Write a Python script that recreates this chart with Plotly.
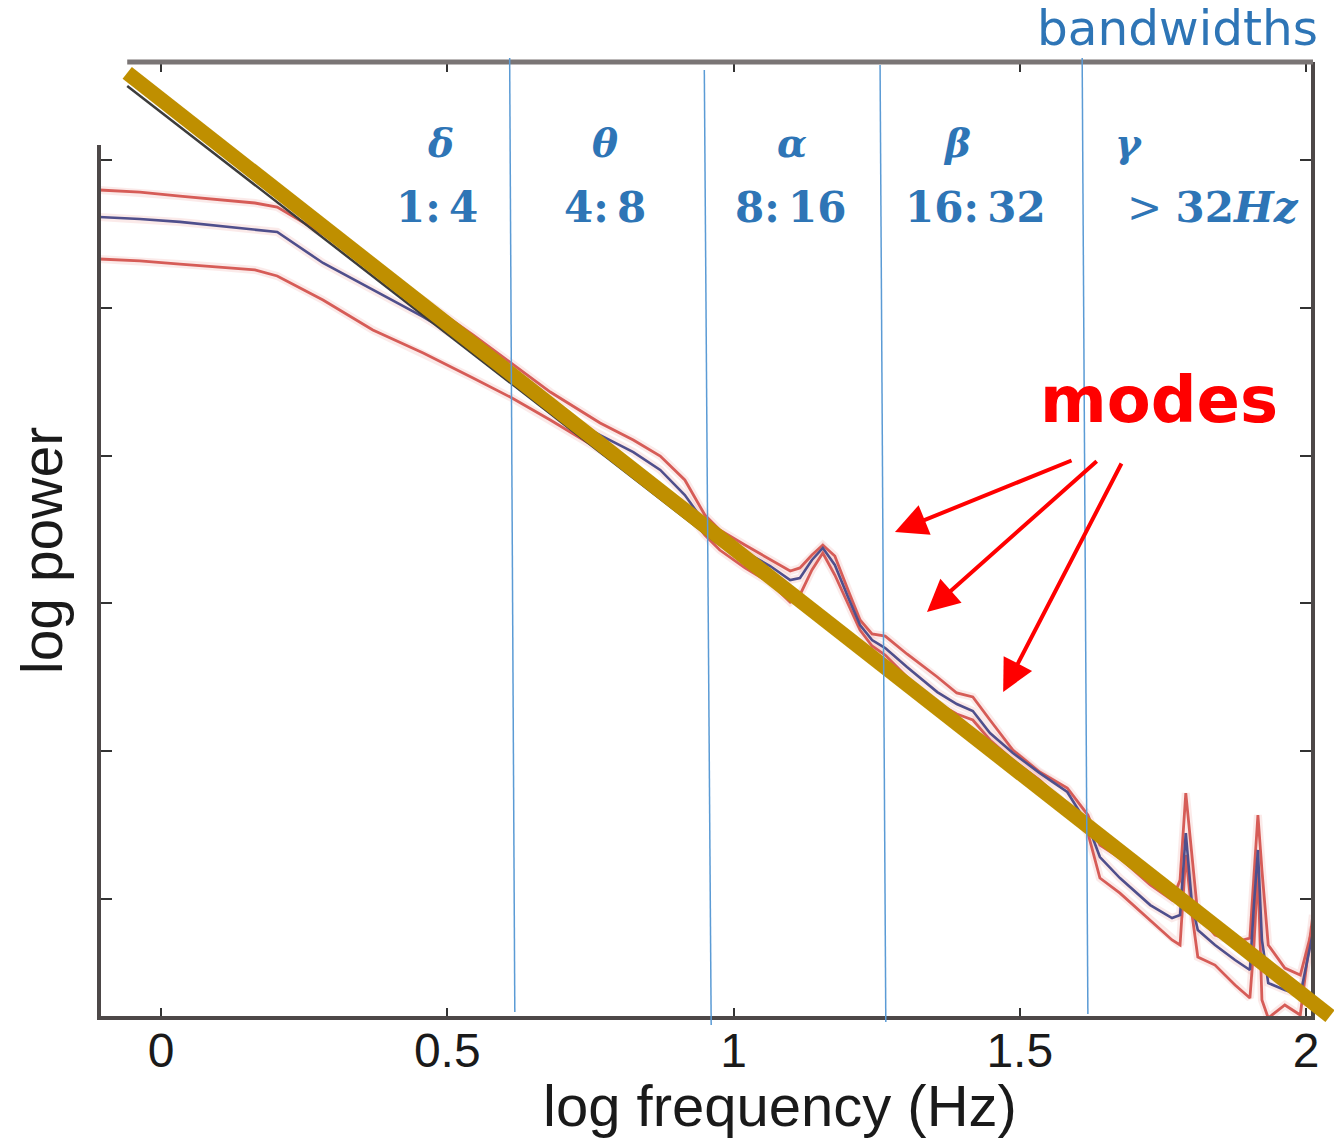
import plotly.graph_objects as go

# ---- power spectra (log10 frequency vs log10 power, arbitrary units) ----
log_freq = [-0.108, -0.037, 0.033, 0.103, 0.164, 0.203, 0.283, 0.370, 0.458, 0.545,
            0.610, 0.680, 0.767, 0.825, 0.872, 0.915, 0.950, 0.976, 1.020, 1.064,
            1.099, 1.116, 1.137, 1.156, 1.177, 1.200, 1.221, 1.242, 1.265, 1.303,
            1.356, 1.390, 1.418, 1.448, 1.488, 1.535, 1.583, 1.619, 1.640, 1.675,
            1.728, 1.766, 1.780, 1.790, 1.801, 1.811, 1.841, 1.876, 1.902, 1.909,
            1.916, 1.923, 1.934, 1.963, 1.990, 2.012]

upper_power = [5.797, 5.783, 5.756, 5.729, 5.709, 5.682, 5.499, 5.276, 5.053, 4.816,
               4.633, 4.430, 4.221, 4.106, 3.997, 3.835, 3.598, 3.497, 3.395, 3.294,
               3.219, 3.240, 3.327, 3.395, 3.321, 3.091, 2.888, 2.793, 2.779, 2.658,
               2.502, 2.394, 2.367, 2.211, 2.008, 1.859, 1.751, 1.568, 1.365, 1.277,
               1.095, 0.993, 1.128, 1.717, 1.264, 0.892, 0.756, 0.709, 0.736, 1.128,
               1.568, 1.196, 0.689, 0.533, 0.486, 0.811]

mean_power = [5.614, 5.601, 5.581, 5.553, 5.533, 5.513, 5.303, 5.120, 4.938, 4.735,
              4.566, 4.322, 4.139, 4.024, 3.903, 3.733, 3.544, 3.449, 3.348, 3.253,
              3.158, 3.172, 3.294, 3.375, 3.260, 3.043, 2.854, 2.752, 2.698, 2.570,
              2.400, 2.319, 2.272, 2.123, 1.988, 1.852, 1.724, 1.501, 1.284, 1.142,
              0.959, 0.871, 0.892, 1.446, 0.959, 0.790, 0.689, 0.587, 0.520, 0.959,
              1.332, 0.723, 0.432, 0.384, 0.350, 0.770]

lower_power = [5.330, 5.317, 5.296, 5.276, 5.256, 5.215, 5.053, 4.850, 4.694, 4.525,
               4.396, 4.241, 4.038, 3.903, 3.767, 3.632, 3.463, 3.361, 3.240, 3.138,
               3.009, 3.057, 3.226, 3.341, 3.192, 3.003, 2.820, 2.712, 2.651, 2.502,
               2.326, 2.252, 2.211, 2.076, 1.940, 1.805, 1.629, 1.446, 1.142, 1.040,
               0.858, 0.723, 0.689, 1.298, 0.892, 0.608, 0.553, 0.418, 0.330, 0.689,
               1.196, 0.317, 0.195, 0.283, 0.215, 0.892]

# straight 1/f fit and the thin reference line that runs beneath it
fit_freq = [-0.059, 2.042]
fit_power = [6.589, 0.208]
ref_freq = [-0.059, 0.976]
ref_power = [6.500, 3.395]

# band boundaries (top and bottom end of each divider)
edge_top_freq = [0.609, 0.949, 1.256, 1.609]
edge_bot_freq = [0.618, 0.961, 1.266, 1.619]
edge_top_power = [6.690, 6.609, 6.643, 6.690]
edge_bot_power = [0.235, 0.147, 0.168, 0.222]

band_symbols = ["δ", "θ", "α", "β", "γ"]
band_ranges = ["1:\u20094", "4:\u20098", "8:\u200916", "16:\u200932", "&gt; <b>32<i>Hz</i></b>"]

# arrows pointing at spectral modes: tails and tips
mode_tail_freq = [1.593, 1.637, 1.679]
mode_tail_power = [3.971, 3.971, 3.957]
mode_tip_freq = [1.282, 1.338, 1.471]
mode_tip_power = [3.483, 2.942, 2.401]

x_ticks = [0, 0.5, 1, 1.5, 2]
x_tick_text = ["0", "0.5", "1", "1.5", "2"]
y_ticks = [1, 2, 3, 4, 5, 6]

# ---- layout geometry ----
W, H = 1340, 1138
PX_W = 1334  # horizontal pixel basis for converting positions to paper fractions
x_range = [-0.1083, 2.0122]
y_range = [0.195, 6.663]
x_dom = [99 / PX_W, 1313 / PX_W]
y_dom = [(H - 1018) / H, (H - 62) / H]


def full_page_range(rng, dom):
    """Range of an overlay axis spanning the whole page with the same scale."""
    s = (rng[1] - rng[0]) / (dom[1] - dom[0])
    return [rng[0] - dom[0] * s, rng[1] + (1 - dom[1]) * s]


x2_range = full_page_range(x_range, x_dom)
y2_range = full_page_range(y_range, y_dom)

RED = "#D65C57"
BLUE_TRACE = "#4F4F8C"
GOLD = "#BF8F00"
BAND_BLUE = "#2E75B6"
EDGE_BLUE = "#5B9BD5"
FRAME = "#4D4848"

fig = go.Figure()

# spectra: soft halo then the lines themselves
for vals in (upper_power, lower_power, mean_power):
    fig.add_trace(go.Scatter(x=log_freq, y=vals, mode="lines",
                             line=dict(color="#E8837D", width=8), opacity=0.16,
                             xaxis="x", yaxis="y", showlegend=False, hoverinfo="skip"))
for vals in (upper_power, lower_power):
    fig.add_trace(go.Scatter(x=log_freq, y=vals, mode="lines",
                             line=dict(color=RED, width=2.8),
                             xaxis="x", yaxis="y", showlegend=False))
fig.add_trace(go.Scatter(x=log_freq, y=mean_power, mode="lines",
                         line=dict(color=BLUE_TRACE, width=2.6),
                         xaxis="x", yaxis="y", showlegend=False))

# frame (drawn on the full-page overlay axes)
fig.add_trace(go.Scatter(
    x=[x_range[0], x_range[0], x_range[1], x_range[1]],
    y=[6.101, y_range[0], y_range[0], y_range[1]],
    mode="lines", line=dict(color=FRAME, width=4),
    xaxis="x2", yaxis="y2", showlegend=False, hoverinfo="skip"))
fig.add_trace(go.Scatter(
    x=[x_range[1], -0.059], y=[y_range[1], y_range[1]],
    mode="lines", line=dict(color="#7A7575", width=5),
    xaxis="x2", yaxis="y2", showlegend=False, hoverinfo="skip"))

# reference line and the 1/f fit
fig.add_trace(go.Scatter(x=ref_freq, y=ref_power, mode="lines",
                         line=dict(color="#3C3C3C", width=2.5),
                         xaxis="x2", yaxis="y2", showlegend=False, hoverinfo="skip"))
fig.add_trace(go.Scatter(x=fit_freq, y=fit_power, mode="lines",
                         line=dict(color=GOLD, width=15),
                         xaxis="x2", yaxis="y2", showlegend=False))

# band dividers
for i in range(len(edge_top_freq)):
    fig.add_trace(go.Scatter(x=[edge_top_freq[i], edge_bot_freq[i]],
                             y=[edge_top_power[i], edge_bot_power[i]],
                             mode="lines", line=dict(color=EDGE_BLUE, width=1.5),
                             xaxis="x2", yaxis="y2", showlegend=False, hoverinfo="skip"))

annotations = []
symbol_x = [0.489, 0.776, 1.102, 1.390, 1.691]
range_x = [0.482, 0.776, 1.100, 1.422, 1.838]
for sx, sym in zip(symbol_x, band_symbols):
    annotations.append(dict(x=sx, y=6.115, xref="x", yref="y", text=f"<b><i>{sym}</i></b>",
                            showarrow=False, xanchor="center", yanchor="middle",
                            font=dict(family="DejaVu Serif", size=39, color=BAND_BLUE)))
for rx, rng in zip(range_x, band_ranges):
    txt = rng if rng.startswith("&gt;") else f"<b>{rng}</b>"
    annotations.append(dict(x=rx, y=5.682, xref="x", yref="y", text=txt,
                            showarrow=False, xanchor="center", yanchor="middle",
                            font=dict(family="DejaVu Serif", size=42, color=BAND_BLUE)))

for tx, ty, hx, hy in zip(mode_tail_freq, mode_tail_power, mode_tip_freq, mode_tip_power):
    annotations.append(dict(x=hx, y=hy, xref="x", yref="y", ax=tx, ay=ty,
                            axref="x", ayref="y", text="", showarrow=True,
                            arrowhead=2, arrowsize=1.6, arrowwidth=4, arrowcolor="#FF0000"))

annotations.append(dict(x=1159 / PX_W, y=1 - 400 / H, xref="paper", yref="paper",
                        text="<b>modes</b>", showarrow=False, xanchor="center", yanchor="middle",
                        font=dict(family="DejaVu Sans", size=64, color="#FF0000")))
annotations.append(dict(x=1320 / PX_W, y=1 - 28 / H, xref="paper", yref="paper",
                        text="bandwidths", showarrow=False, xanchor="right", yanchor="middle",
                        font=dict(family="DejaVu Sans", size=48.5, color=BAND_BLUE)))
annotations.append(dict(x=780 / PX_W, y=1 - 1105 / H, xref="paper", yref="paper",
                        text="log frequency (Hz)", showarrow=False, xanchor="center",
                        yanchor="middle",
                        font=dict(family="Liberation Sans", size=58, color="#1A1A1A")))
annotations.append(dict(x=42 / PX_W, y=1 - 551 / H, xref="paper", yref="paper",
                        text="log power", showarrow=False, textangle=-90,
                        xanchor="center", yanchor="middle",
                        font=dict(family="Liberation Sans", size=57, color="#1A1A1A")))

fig.update_layout(
    width=W, height=H, autosize=False,
    margin=dict(l=0, r=0, t=0, b=0),
    paper_bgcolor="white", plot_bgcolor="rgba(0,0,0,0)",
    showlegend=False,
    xaxis=dict(domain=x_dom, range=x_range, anchor="y", showgrid=False, zeroline=False,
               showline=False, ticks="inside", ticklen=10, tickwidth=2, tickcolor="#333",
               mirror="ticks", tickvals=x_ticks, ticktext=x_tick_text,
               tickfont=dict(family="Liberation Sans", size=48, color="#1A1A1A")),
    yaxis=dict(domain=y_dom, range=y_range, anchor="x", showgrid=False, zeroline=False,
               showline=False, ticks="inside", ticklen=13, tickwidth=2, tickcolor="#333",
               mirror="ticks", tickvals=y_ticks, showticklabels=False),
    xaxis2=dict(domain=[0, 1], range=x2_range, anchor="y2", visible=False),
    yaxis2=dict(domain=[0, 1], range=y2_range, anchor="x2", visible=False),
    annotations=annotations,
)

fig.write_html("out.html")
